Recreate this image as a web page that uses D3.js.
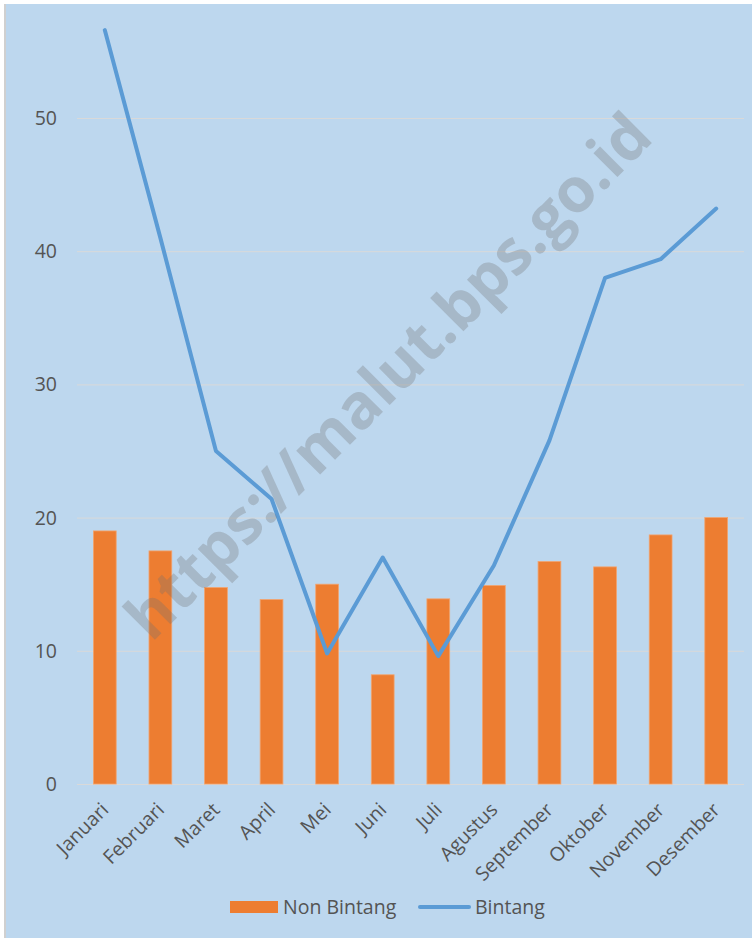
<!DOCTYPE html>
<html>
<head>
<meta charset="utf-8">
<script src="https://cdn.jsdelivr.net/npm/d3@7"></script>
<style>
  body { margin: 0; background: #fff; }
  svg { display: block; font-family: 'Open Sans', sans-serif; }
</style>
</head>
<body>
<svg width="752" height="938"></svg>
<script>
const months = ['Januari', 'Februari', 'Maret', 'April', 'Mei', 'Juni', 'Juli',
  'Agustus', 'September', 'Oktober', 'November', 'Desember']
const nonBintang = [19.0, 17.5, 14.75, 13.85, 15.0, 8.2, 13.9, 14.9, 16.7, 16.3, 18.7, 20.0]
const bintang = [56.6, 41.0, 25.0, 21.4, 9.8, 17.0, 9.6, 16.4, 25.8, 38.0, 39.4, 43.2]
const yTicks = [0, 10, 20, 30, 40, 50]

let svg = d3.select('svg')
const width = +svg.attr('width')
const height = +svg.attr('height')

// chart area background + thin left border
svg.append('rect').attr('x', 5).attr('y', 4)
  .attr('width', width - 5).attr('height', height - 4).attr('fill', '#BDD7EE')
svg.append('line').attr('x1', 5).attr('x2', 5).attr('y1', 4).attr('y2', height)
  .attr('stroke', '#d0d0d0').attr('stroke-width', 2)

const left = 77, right = 744
const x = d3.scaleBand().domain(months).range([left, right]).paddingInner(0.59).paddingOuter(0.295)
const y = d3.scaleLinear().domain([0, 50]).range([784, 118])
const textColor = '#545454'

// gridlines
svg.append('g').selectAll('line').data(yTicks).enter().append('line')
  .attr('x1', left).attr('x2', right)
  .attr('y1', d => y(d) + 0.5).attr('y2', d => y(d) + 0.5)
  .attr('stroke', '#d9d9d9').attr('stroke-width', 1)

// y labels
svg.append('g').selectAll('text').data(yTicks).enter().append('text')
  .attr('x', 57).attr('y', d => y(d)).attr('dy', '0.36em')
  .attr('text-anchor', 'end').attr('fill', textColor).style('font-size', '19.5px')
  .text(d => d)

// bars
svg.append('g').selectAll('rect').data(nonBintang).enter().append('rect')
  .attr('x', (d, i) => x(months[i]))
  .attr('y', d => y(d))
  .attr('width', x.bandwidth())
  .attr('height', d => y(0) - y(d))
  .attr('fill', '#ED7D31')
  .attr('stroke', '#f2a46f').attr('stroke-width', 0.8)

// line
const line = d3.line()
  .x((d, i) => x(months[i]) + x.bandwidth() / 2)
  .y(d => y(d))
svg.append('path').datum(bintang)
  .attr('d', line).attr('fill', 'none')
  .attr('stroke', '#5B9BD5').attr('stroke-width', 4)
  .attr('stroke-linejoin', 'round').attr('stroke-linecap', 'round')

// x labels
svg.append('g').selectAll('text').data(months).enter().append('text')
  .attr('transform', d => `translate(${x(d) + x.bandwidth() / 2 + 5},${811}) rotate(-45)`)
  .attr('text-anchor', 'end').attr('fill', textColor).style('font-size', '19.5px')
  .text(d => d)

// watermark
svg.append('text')
  .attr('transform', 'translate(388,376) rotate(-45)')
  .attr('text-anchor', 'middle').attr('dy', '0.35em')
  .attr('fill', '#6f6f6f').attr('fill-opacity', 0.3)
  .style('font-size', '62px').style('font-weight', 'bold')
  .text('https://malut.bps.go.id')

// legend
let legend = svg.append('g')
legend.append('rect').attr('x', 230).attr('y', 901).attr('width', 48).attr('height', 12)
  .attr('fill', '#ED7D31')
legend.append('text').attr('x', 283).attr('y', 914).attr('fill', textColor)
  .style('font-size', '19.5px').text('Non Bintang')
legend.append('line').attr('x1', 420).attr('x2', 469).attr('y1', 907).attr('y2', 907)
  .attr('stroke', '#5B9BD5').attr('stroke-width', 4).attr('stroke-linecap', 'round')
legend.append('text').attr('x', 475).attr('y', 914).attr('fill', textColor)
  .style('font-size', '19.5px').text('Bintang')
</script>
</body>
</html>
